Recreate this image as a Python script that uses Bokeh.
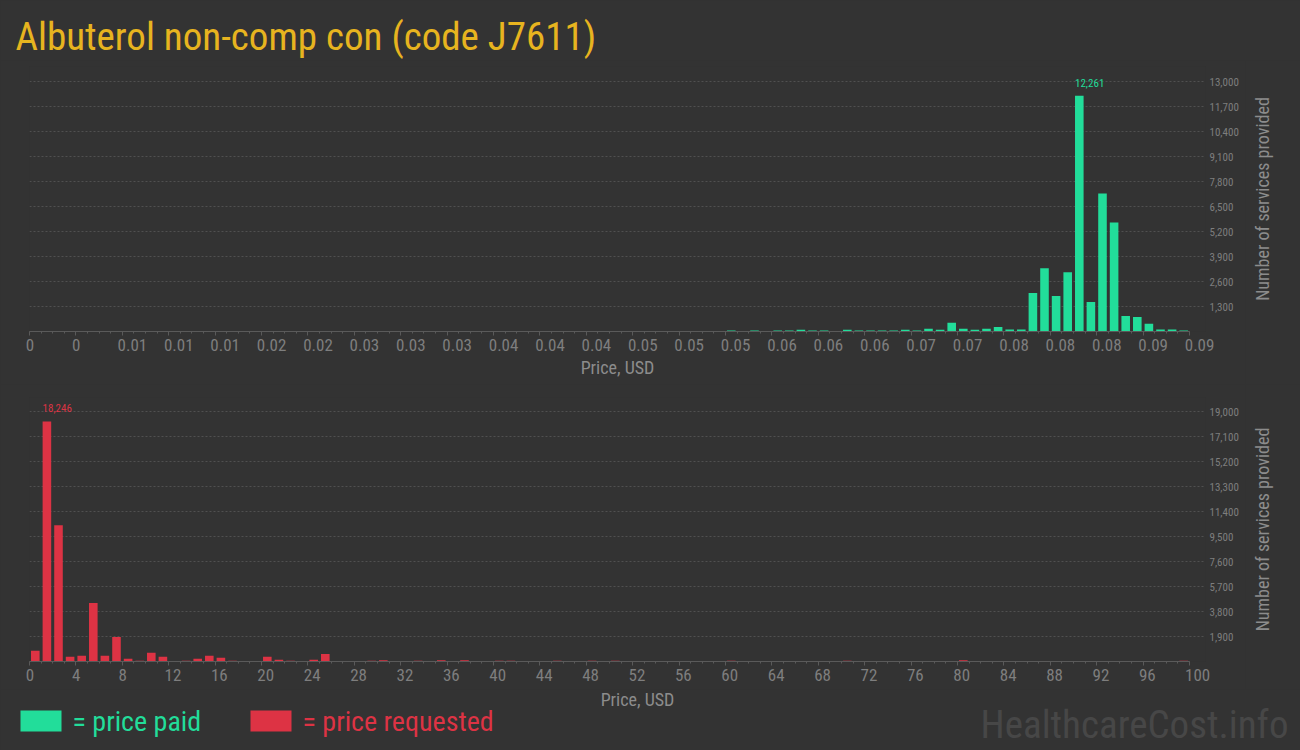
import math
import numpy as np
from bokeh.plotting import figure
from bokeh.layouts import column, row
from bokeh.models import (Range1d, FixedTicker, NumeralTickFormatter, ColumnDataSource,
                          LinearAxis)
from bokeh.core.properties import value
from bokeh.embed import file_html
from bokeh.resources import INLINE

# ---------------- data ----------------
TITLE = "Albuterol non-comp con (code J7611)"

# price paid histogram: 100 bins of 0.0009 USD from 0 to 0.09
paid_bin_width = 0.0009
paid_counts = [0] * 60 + [
    50, 0, 50, 0, 50, 50, 90, 50, 50, 0,
    90, 50, 50, 50, 50, 90, 50, 140, 90, 450,
    140, 90, 140, 240, 100, 100, 2000, 3290, 1845, 3086,
    12261, 1534, 7172, 5672, 810, 758, 397, 100, 100, 50,
]
paid_xmax = 0.09
paid_xticks = [round(i * 0.0036, 4) for i in range(26)]
paid_xlabels = ["0", "0", "0.01", "0.01", "0.01", "0.02", "0.02", "0.03", "0.03",
                "0.03", "0.04", "0.04", "0.04", "0.05", "0.05", "0.05", "0.06",
                "0.06", "0.06", "0.07", "0.07", "0.08", "0.08", "0.08", "0.09", "0.09"]
paid_yticks = [1300, 2600, 3900, 5200, 6500, 7800, 9100, 10400, 11700, 13000]

# price requested histogram: 100 bins of 1 USD from 0 to 100
req_bin_width = 1
req_counts = [
    808, 18246, 10360, 354, 430, 4448, 430, 1870, 202, 60,
    657, 354, 0, 60, 202, 430, 278, 60, 0, 0,
    354, 126, 60, 0, 126, 570, 0, 0, 0, 60,
    100, 0, 0, 60, 0, 100, 0, 100, 0, 0,
    60, 60, 0, 0, 0, 60, 0, 0, 60, 0,
    60, 0, 0, 0, 0, 0, 0, 0, 0, 0,
    60, 0, 0, 0, 0, 0, 0, 0, 0, 0,
    60, 0, 0, 0, 0, 0, 0, 0, 0, 0,
    100, 0, 0, 0, 0, 0, 0, 0, 0, 0,
    0, 0, 0, 0, 0, 0, 0, 0, 0, 60,
]
req_xmax = 100
req_xticks = list(range(0, 101, 4))
req_xlabels = [str(t) for t in req_xticks]
req_yticks = [1900, 3800, 5700, 7600, 9500, 11400, 13300, 15200, 17100, 19000]

LEGEND_PAID = "= price paid"
LEGEND_REQ = "= price requested"
WATERMARK = "HealthcareCost.info"
X_TITLE = "Price, USD"
Y_TITLE = "Number of services provided"

# ---------------- style ----------------
BG = "#333333"
GREEN = "#22dd9a"
RED = "#dd3344"
GOLD = "#e7b41f"
TICK_TXT = "#7e7e7e"
AXIS_TITLE = "#8c8c8c"
GRID = "#505050"
AXIS_LINE = "#5a5a5a"
WM = "#474747"

COND = "Roboto Condensed, Liberation Sans Narrow, Roboto, sans-serif"
NARROW = "Liberation Sans Narrow, Roboto Condensed, sans-serif"

PAGE_W = 1300
CHART_W = 1245
LEFT = 29
RIGHT = 40
AXIS_PX = 1160          # pixel length of the drawn x axis
FRAME_W = CHART_W - LEFT - RIGHT   # 1176: frame runs a little past the axis end
TICK_SPAN_PX = 250      # pixel height from 0 to the top y tick
BASE_SHIFT = 0.28       # em shift observed for alphabetic text placement
XLAB_PX = 17            # x tick label font size
# approximate advance widths (em) of the narrow tick font, used to start each
# tick label just left of its tick as in the reference
CHAR_EM = {".": 0.228, ",": 0.228}
DIGIT_EM = 0.456
LABEL_LEAD_PX = 3.5


def label_width_px(s):
    return sum(CHAR_EM.get(c, DIGIT_EM) for c in s) * XLAB_PX


def fig_common(**kw):
    return figure(output_backend="svg", toolbar_location=None,
                  background_fill_color=BG, border_fill_color=BG,
                  outline_line_color=None, frame_align=False, **kw)


def blank(width, height, x0, flip=True):
    yr = Range1d(height, 0) if flip else Range1d(0, height)
    p = fig_common(width=width, height=height, x_range=Range1d(x0, x0 + width), y_range=yr,
                   x_axis_location=None, y_axis_location=None, min_border=0)
    p.xgrid.visible = False
    p.ygrid.visible = False
    return p


def chart(counts, binw, xmax, xticks, xlabels, yticks, color, height, btop, bbottom, xtitle):
    n = len(counts)
    edges = np.arange(n + 1) * binw
    centers = (edges[:-1] + edges[1:]) / 2
    frame_h = height - btop - bbottom
    x_end = xmax * FRAME_W / AXIS_PX
    y_end = yticks[-1] * frame_h / TICK_SPAN_PX
    data_per_px = xmax / AXIS_PX

    p = fig_common(width=CHART_W, height=height, x_range=Range1d(0, x_end),
                   y_range=Range1d(0, y_end), y_axis_location="right",
                   min_border_left=LEFT, min_border_right=RIGHT,
                   min_border_top=btop, min_border_bottom=bbottom)

    src = ColumnDataSource(dict(x=centers, top=counts))
    p.vbar(x="x", top="top", width=binw * 0.74, source=src, fill_color=color, line_color=None)

    i = int(np.argmax(counts))
    p.text(x=[centers[i]], y=[counts[i]], text=[f"{counts[i]:,}"],
           text_font=value(NARROW), text_font_size="11px", text_color=color,
           text_align="left", text_baseline="alphabetic", x_offset=-4.3, y_offset=-13)

    # axis with line and ticks only (its own labels are not drawn)
    xa = p.xaxis[0]
    xa.bounds = (0, xmax)
    xa.ticker = FixedTicker(ticks=xticks, minor_ticks=[float(e) for e in edges])
    xa.axis_line_color = AXIS_LINE
    xa.major_tick_line_color = AXIS_LINE
    xa.minor_tick_line_color = AXIS_LINE
    xa.major_tick_in = 0
    xa.major_tick_out = 4
    xa.minor_tick_in = 0
    xa.minor_tick_out = 2
    xa.major_label_standoff = 0
    xa.major_label_text_color = None

    # labels-only axis: each label starts just left of its tick (kept inside the range)
    pos = [t + max(label_width_px(l) / 2 - LABEL_LEAD_PX, 0.3) * data_per_px
           for t, l in zip(xticks, xlabels)]
    la = LinearAxis(ticker=FixedTicker(ticks=pos),
                    major_label_overrides={q: l for q, l in zip(pos, xlabels)},
                    axis_line_color=None, major_tick_line_color=None,
                    minor_tick_line_color=None, major_tick_in=0, major_tick_out=0,
                    minor_tick_in=0, minor_tick_out=0, major_label_standoff=3,
                    major_label_text_font=NARROW, major_label_text_font_size=f"{XLAB_PX}px",
                    major_label_text_color=TICK_TXT)
    if xtitle:
        la.axis_label = xtitle
        la.axis_label_standoff = 3
        la.axis_label_text_font = COND
        la.axis_label_text_font_size = "18px"
        la.axis_label_text_font_style = "normal"
        la.axis_label_text_color = AXIS_TITLE
    p.add_layout(la, "below")

    ya = p.yaxis[0]
    ya.ticker = FixedTicker(ticks=yticks)
    ya.formatter = NumeralTickFormatter(format="0,0")
    ya.axis_line_color = None
    ya.major_tick_line_color = None
    ya.minor_tick_line_color = None
    ya.major_tick_in = 0
    ya.major_tick_out = 0
    ya.minor_tick_in = 0
    ya.minor_tick_out = 0
    ya.major_label_standoff = 4
    ya.major_label_text_font = NARROW
    ya.major_label_text_font_size = "11px"
    ya.major_label_text_color = TICK_TXT

    p.xgrid.visible = False
    p.ygrid.ticker = FixedTicker(ticks=yticks)
    p.ygrid.grid_line_color = GRID
    p.ygrid.grid_line_dash = "2 2"
    p.ygrid.grid_line_width = 1
    return p, btop + frame_h / 2


def ytitle(height, center_from_top):
    p = blank(PAGE_W - CHART_W, height, CHART_W, flip=False)
    p.text(x=[1262], y=[height - center_from_top], text=[Y_TITLE], angle=math.pi / 2,
           text_font=value(COND), text_font_size="18px", text_color=AXIS_TITLE,
           text_align="center", text_baseline="alphabetic")
    return p


# title strip (page y 0..60)
ft = blank(PAGE_W, 60, 0)
ft.text(x=[15], y=[47 - BASE_SHIFT * 39], text=[TITLE], text_font=value(COND),
        text_font_size="39px", text_color=GOLD, text_align="left", text_baseline="alphabetic")

# charts (page y 60..384 and 384..689)
f1, c1 = chart(paid_counts, paid_bin_width, paid_xmax, paid_xticks, paid_xlabels, paid_yticks,
               GREEN, height=324, btop=6, bbottom=53, xtitle=X_TITLE)
f2, c2 = chart(req_counts, req_bin_width, req_xmax, req_xticks, req_xlabels, req_yticks,
               RED, height=305, btop=13, bbottom=28, xtitle=None)
y1 = ytitle(324, c1)
y2 = ytitle(305, c2)

# bottom strip (page y 689..750): x title of second chart, legend, watermark
fb = blank(PAGE_W, 61, 0)
fb.text(x=[637], y=[15 - BASE_SHIFT * 18], text=[X_TITLE], text_font=value(COND),
        text_font_size="18px", text_color=AXIS_TITLE, text_align="center",
        text_baseline="alphabetic")
fb.quad(left=[20, 250], right=[61, 291], top=[21, 21], bottom=[42, 42],
        fill_color=[GREEN, RED], line_color=None)
fb.text(x=[72, 302], y=[40 - BASE_SHIFT * 28] * 2, text=[LEGEND_PAID, LEGEND_REQ],
        text_font=value(COND), text_font_size="28px", text_color=[GREEN, RED],
        text_align="left", text_baseline="alphabetic")
fb.text(x=[1288], y=[46 - BASE_SHIFT * 39], text=[WATERMARK], text_font=value(COND),
        text_font_size="39px", text_color=WM, text_align="right", text_baseline="alphabetic")

layout = column(
    ft,
    row(column(f1, f2, spacing=0), column(y1, y2, spacing=0), spacing=0),
    fb,
    spacing=0,
    styles={"background-color": BG},
)
open("out.html", "w").write(file_html(layout, INLINE))
